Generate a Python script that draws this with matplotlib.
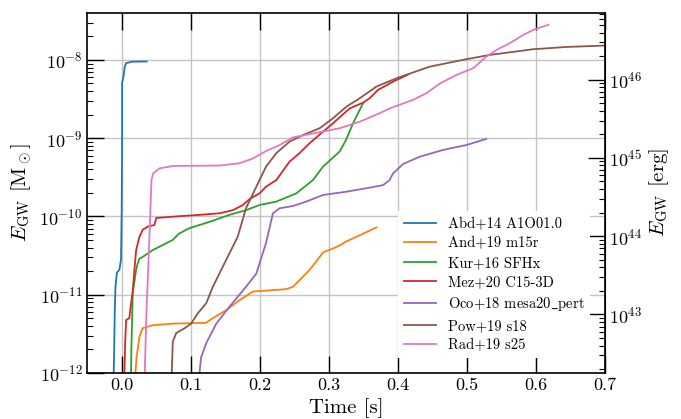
import numpy as np
import matplotlib
matplotlib.use("Agg")
import matplotlib.pyplot as plt
from matplotlib import ticker

plt.rcParams["font.family"] = "serif"
plt.rcParams["font.serif"] = ["cmr10"]
plt.rcParams["mathtext.fontset"] = "cm"
plt.rcParams["axes.formatter.use_mathtext"] = True

MSUN_ERG = 1.787e54  # M_sun c^2 in erg

# time [s], log10(E_GW / M_sun)
abd_t = [-0.0116, -0.0110, -0.0100, -0.0090, -0.0070, -0.0033, -0.0010, 0.0000, 0.0006, 0.0006, 0.0025, 0.0044, 0.0064, 0.0155, 0.0363]
abd_e = [-12.0, -11.75, -11.2, -10.9, -10.72, -10.68, -10.55, -9.92, -9.0, -8.29, -8.22, -8.086, -8.04, -8.022, -8.02]

and_t = [0.0199, 0.0215, 0.0257, 0.0300, 0.0450, 0.0740, 0.1220, 0.1320, 0.1510, 0.1707, 0.1900, 0.2380, 0.2480, 0.2720, 0.2870, 0.2915, 0.3060, 0.3157, 0.3254, 0.3447, 0.3690]
and_e = [-12.0, -11.8, -11.54, -11.43, -11.39, -11.37, -11.36, -11.30, -11.20, -11.07, -10.96, -10.93, -10.90, -10.685, -10.515, -10.46, -10.41, -10.37, -10.32, -10.24, -10.14]

kur_t = [0.0136, 0.0140, 0.0160, 0.0209, 0.0232, 0.0257, 0.0300, 0.0450, 0.0740, 0.0830, 0.0980, 0.1270, 0.1560, 0.1800, 0.1997, 0.2240, 0.2530, 0.2770, 0.2915, 0.3157, 0.3250, 0.3350, 0.3495]
kur_e = [-12.0, -11.7, -10.98, -10.685, -10.6, -10.54, -10.52, -10.43, -10.30, -10.22, -10.15, -10.07, -9.98, -9.92, -9.854, -9.81, -9.705, -9.535, -9.364, -9.17, -9.02, -8.81, -8.554]

mez_t = [0.0040, 0.0050, 0.0064, 0.0110, 0.0136, 0.0160, 0.0184, 0.0209, 0.0257, 0.0305, 0.0377, 0.0474, 0.0500, 0.0790, 0.1127, 0.1417, 0.1610, 0.1755, 0.1850, 0.1997, 0.2090, 0.2240, 0.2430, 0.2577, 0.2720, 0.2915, 0.3060, 0.3300, 0.3495, 0.3590, 0.3710, 0.3930, 0.4140]
mez_e = [-12.0, -11.62, -11.325, -11.30, -11.11, -10.96, -10.685, -10.43, -10.26, -10.17, -10.13, -10.11, -10.02, -10.0, -9.98, -9.96, -9.92, -9.854, -9.78, -9.705, -9.62, -9.535, -9.30, -9.19, -9.065, -8.917, -8.81, -8.62, -8.546, -8.49, -8.384, -8.277, -8.19]

oco_t = [0.1127, 0.1150, 0.1224, 0.1370, 0.1560, 0.1800, 0.1950, 0.2090, 0.2190, 0.2287, 0.2480, 0.2674, 0.2915, 0.3254, 0.3544, 0.3785, 0.3880, 0.3930, 0.4075, 0.4317, 0.4655, 0.4994, 0.5280]
oco_e = [-12.0, -11.8, -11.62, -11.37, -11.155, -10.9, -10.73, -10.34, -9.96, -9.896, -9.867, -9.81, -9.726, -9.684, -9.64, -9.60, -9.535, -9.45, -9.33, -9.237, -9.15, -9.087, -9.01]

pow_t = [0.0725, 0.0740, 0.0790, 0.0910, 0.1006, 0.1100, 0.1224, 0.1320, 0.1510, 0.1680, 0.1800, 0.1950, 0.2090, 0.2240, 0.2430, 0.2625, 0.2867, 0.3060, 0.3254, 0.3447, 0.3690, 0.3980, 0.4460, 0.4994, 0.5330, 0.5960, 0.6444, 0.6975, 0.7200]
pow_e = [-12.0, -11.6, -11.49, -11.43, -11.37, -11.24, -11.11, -10.90, -10.56, -10.26, -9.896, -9.62, -9.364, -9.19, -9.045, -8.96, -8.873, -8.746, -8.597, -8.49, -8.34, -8.234, -8.086, -7.99, -7.936, -7.863, -7.834, -7.817, -7.81]

rad_t = [0.0334, 0.0358, 0.0406, 0.0431, 0.0455, 0.0550, 0.0745, 0.1420, 0.1710, 0.1905, 0.2100, 0.2290, 0.2480, 0.2770, 0.3157, 0.3447, 0.3737, 0.3880, 0.4220, 0.4410, 0.4610, 0.4850, 0.5090, 0.5280, 0.5430, 0.5620, 0.5815, 0.5960, 0.6180]
rad_e = [-12.0, -11.24, -10.17, -9.535, -9.45, -9.385, -9.355, -9.35, -9.32, -9.257, -9.16, -9.087, -8.99, -8.94, -8.873, -8.79, -8.68, -8.62, -8.51, -8.426, -8.30, -8.19, -8.106, -7.958, -7.87, -7.786, -7.68, -7.616, -7.55]

labels = ["Abd+14 A1O01.0", "And+19 m15r", "Kur+16 SFHx", "Mez+20 C15-3D",
          "Oco+18 mesa20$\\_$pert", "Pow+19 s18", "Rad+19 s25"]
series = [(abd_t, abd_e), (and_t, and_e), (kur_t, kur_e), (mez_t, mez_e),
          (oco_t, oco_e), (pow_t, pow_e), (rad_t, rad_e)]

xticks = [0.0, 0.1, 0.2, 0.3, 0.4, 0.5, 0.6, 0.7]
erg_ticks = [1e43, 1e44, 1e45, 1e46]


def main():
    fig = plt.figure(figsize=(6.81, 4.19), dpi=100)
    ax = fig.add_axes([0.128, 0.110, 0.7605, 0.859])

    for (t, e), lab in zip(series, labels):
        ax.plot(t, 10.0 ** np.array(e), lw=1.3, label=lab)

    ax.set_yscale("log")
    ax.set_xlim(-0.05, 0.7)
    ax.set_ylim(1e-12, 10 ** -7.4)
    ax.set_xticks(xticks)
    ax.set_xticklabels([f"{v:.1f}" for v in xticks])
    ax.yaxis.set_minor_formatter(ticker.NullFormatter())
    ax.grid(True, which="major", color="#c4c4c4", lw=1.0)

    ax.tick_params(axis="both", which="both", direction="in", labelsize=13)
    ax.tick_params(axis="x", which="both", top=True, bottom=True)
    ax.tick_params(axis="y", which="both", left=True, right=False)
    ax.tick_params(which="major", length=12, width=1.0)
    ax.tick_params(which="minor", length=4.5, width=0.8)
    ax.xaxis.set_minor_locator(ticker.NullLocator())
    for sp in ax.spines.values():
        sp.set_linewidth(1.2)

    ax.set_xlabel("Time [s]", fontsize=15)
    ax.set_ylabel(r"$E_{\rm GW}$ [M$_\odot$]", fontsize=15)

    sec = ax.secondary_yaxis("right", functions=(lambda x: x * MSUN_ERG,
                                                 lambda x: x / MSUN_ERG))
    sec.yaxis.set_major_locator(ticker.FixedLocator(erg_ticks))
    sec.yaxis.set_minor_locator(ticker.LogLocator(base=10, subs=np.arange(2, 10)))
    sec.yaxis.set_minor_formatter(ticker.NullFormatter())
    sec.tick_params(which="both", direction="in", labelsize=13, pad=2.5)
    sec.tick_params(which="major", length=12, width=1.0)
    sec.tick_params(which="minor", length=4.5, width=0.8)
    sec.set_ylabel(r"$E_{\rm GW}$ [erg]", fontsize=15)

    leg = ax.legend(loc="lower right", fontsize=10.5, frameon=True,
                    fancybox=False, edgecolor="white", framealpha=1.0,
                    handlelength=2.2, handletextpad=0.8, labelspacing=0.4,
                    borderaxespad=1.0)
    leg.get_frame().set_linewidth(0)

    fig.savefig("out.png", dpi=100)


if __name__ == "__main__":
    main()
